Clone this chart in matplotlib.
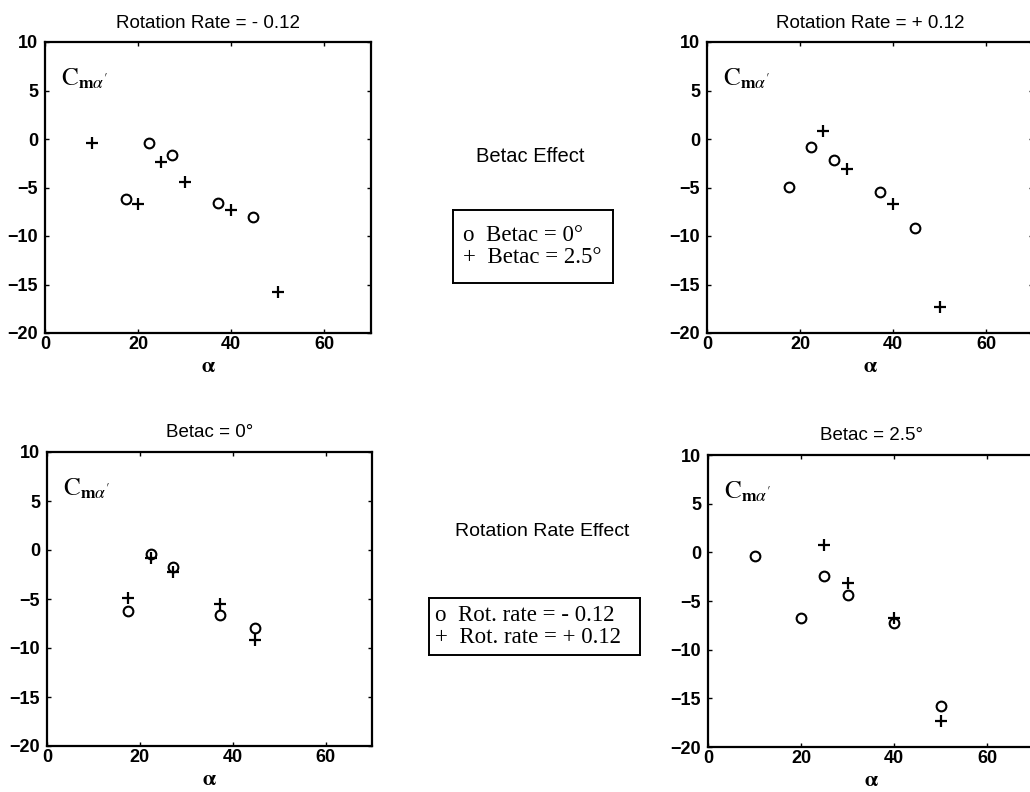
import matplotlib
matplotlib.use("Agg")
import matplotlib.pyplot as plt

# Cm_alpha' vs alpha, Betac = 0 deg (circles in top row), two rotation rates
alpha_b0 = [17.5, 22.3, 27.2, 37.2, 44.7]
cm_b0_neg = [-6.2, -0.4, -1.7, -6.6, -8.0]
cm_b0_pos = [-4.9, -0.8, -2.2, -5.5, -9.2]

# Betac = 2.5 deg
alpha_b25_neg = [10, 20, 25, 30, 40, 50]
cm_b25_neg = [-0.4, -6.7, -2.4, -4.4, -7.3, -15.8]
alpha_b25_pos = [25, 30, 40, 50]
cm_b25_pos = [0.8, -3.1, -6.7, -17.3]

xticks = [0, 20, 40, 60]
yticks = [10, 5, 0, -5, -10, -15, -20]

plt.rcParams['font.family'] = ['Liberation Sans', 'DejaVu Sans']
plt.rcParams['mathtext.fontset'] = 'stix'

W, H = 1030, 792
fig = plt.figure(figsize=(W / 100, H / 100), dpi=100)


def box(l, t, r, b):
    return [l / W, 1 - b / H, (r - l) / W, (b - t) / H]


def panel(rect, title, circ, plus, tpad):
    ax = fig.add_axes(box(*rect))
    ax.plot(circ[0], circ[1], 'o', ms=7, mfc='none', mec='black', mew=1.5, ls='none')
    ax.plot(plus[0], plus[1], '+', ms=8.5, mec='black', mew=1.6, ls='none')
    ax.set_xlim(0, 70)
    ax.set_ylim(-20, 10)
    ax.set_xticks(xticks)
    ax.set_yticks(yticks)
    ax.tick_params(direction='in', length=3, width=1, top=True, right=True,
                   labelsize=13)
    ax.tick_params(axis='x', pad=2)
    ax.tick_params(axis='y', pad=5)
    for lab in ax.get_xticklabels() + ax.get_yticklabels():
        lab.set_fontweight('bold')
    for s in ax.spines.values():
        s.set_linewidth(1.6)
    ax.set_title(title, fontsize=13.5, pad=tpad)
    ax.set_xlabel(r'$\mathbf{\alpha}$', fontsize=15, labelpad=3)
    ax.text(0.05, 0.85, r"$\mathrm{C}_{\mathbf{m}\alpha'}$", transform=ax.transAxes,
            fontsize=18)
    return ax


panel((45, 42, 371, 333), 'Rotation Rate = - 0.12',
      (alpha_b0, cm_b0_neg), (alpha_b25_neg, cm_b25_neg), 10)
panel((707, 42, 1033, 333), 'Rotation Rate = + 0.12',
      (alpha_b0, cm_b0_pos), (alpha_b25_pos, cm_b25_pos), 10)
panel((47, 452, 372, 746), 'Betac = 0°',
      (alpha_b0, cm_b0_neg), (alpha_b0, cm_b0_pos), 11)
panel((708, 455, 1034, 747), 'Betac = 2.5°',
      (alpha_b25_neg, cm_b25_neg), (alpha_b25_pos, cm_b25_pos), 11)


def legend_box(rect, lines, x0):
    ax = fig.add_axes(box(*rect))
    ax.set_xticks([])
    ax.set_yticks([])
    for s in ax.spines.values():
        s.set_linewidth(1.4)
    ax.text(x0, 0.5, '\n'.join(lines), transform=ax.transAxes, va='center', ha='left',
            family=['Liberation Serif', 'DejaVu Serif'], fontsize=16.5, linespacing=1.05)


fig.text(530 / W, 1 - 157 / H, 'Betac Effect', ha='center', va='center', fontsize=14.5)
legend_box((453, 210, 613, 283), ['o  Betac = 0°', '+  Betac = 2.5°'], 0.06)

fig.text(542 / W, 1 - 532 / H, 'Rotation Rate Effect', ha='center', va='center', fontsize=14)
legend_box((429, 598, 640, 655), ['o  Rot. rate = - 0.12', '+  Rot. rate = + 0.12'], 0.03)

fig.savefig('out.png', dpi=100)
